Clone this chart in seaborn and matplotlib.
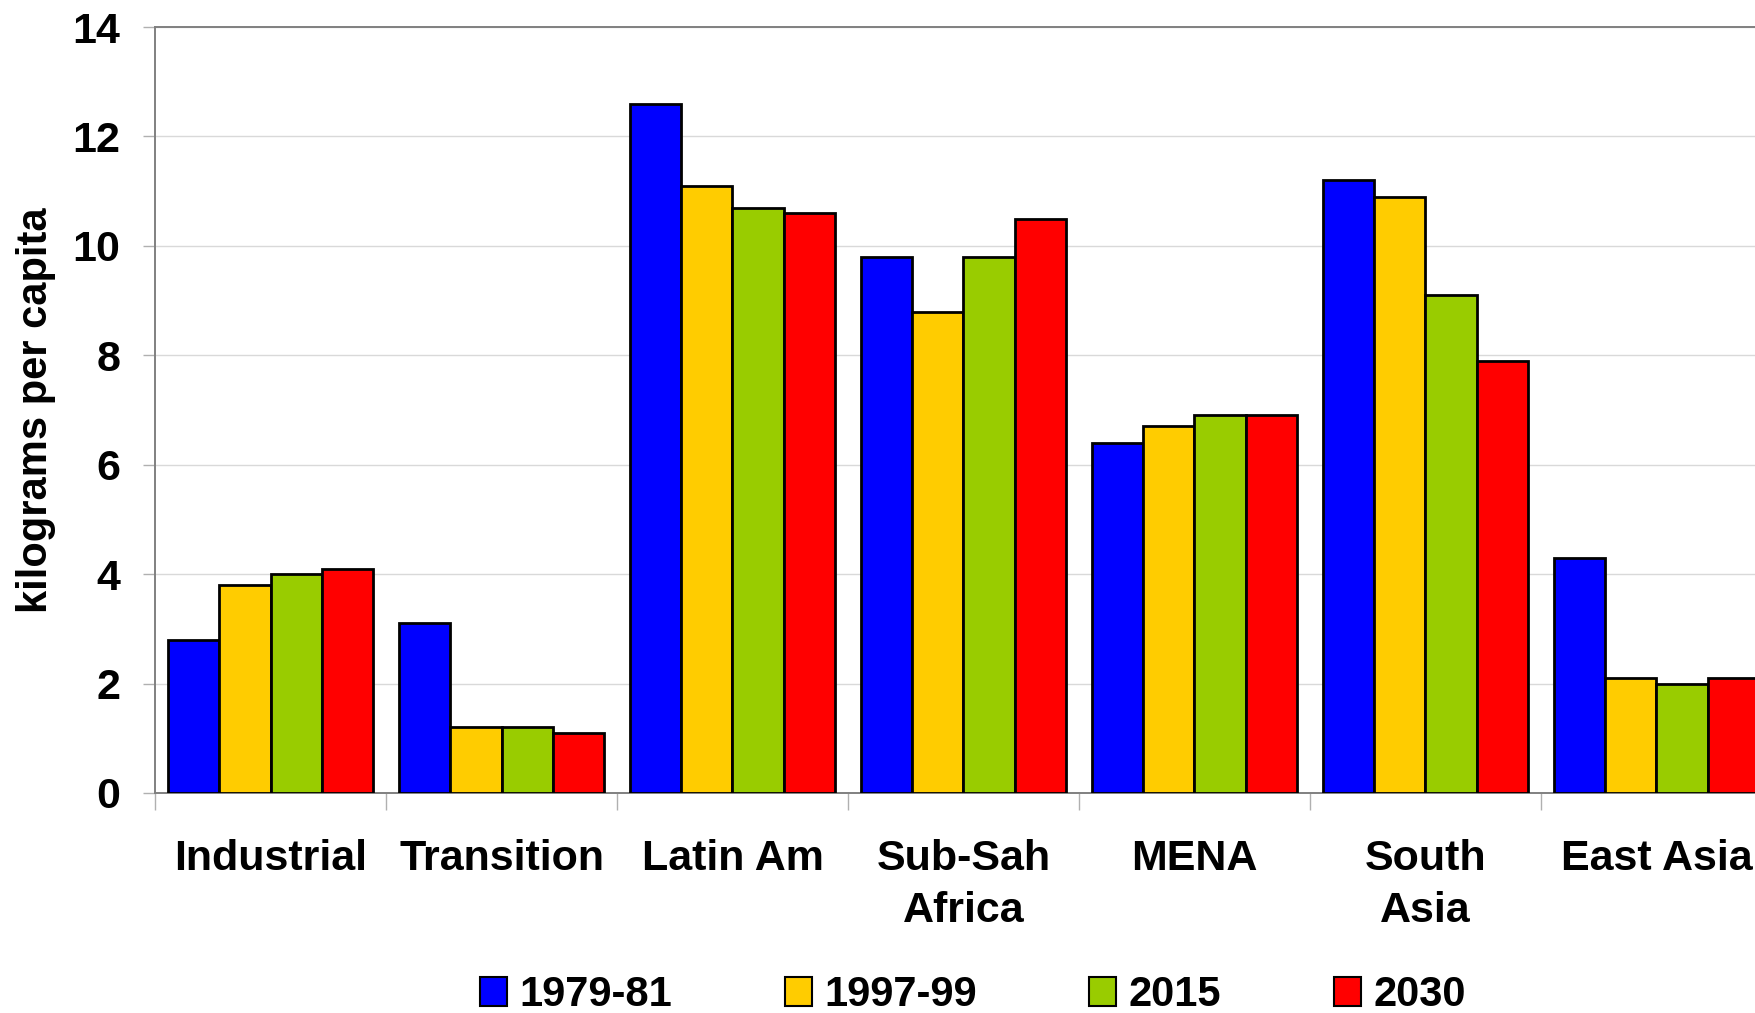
import numpy as np
import pandas as pd
import matplotlib
matplotlib.use("Agg")
import matplotlib.pyplot as plt
import seaborn as sns

# Data
regions = ["Industrial", "Transition", "Latin Am", "Sub-Sah\nAfrica", "MENA", "South\nAsia", "East Asia"]
periods = ["1979-81", "1997-99", "2015", "2030"]
v_1979 = [2.8, 3.1, 12.6, 9.8, 6.4, 11.2, 4.3]
v_1997 = [3.8, 1.2, 11.1, 8.8, 6.7, 10.9, 2.1]
v_2015 = [4.0, 1.2, 10.7, 9.8, 6.9, 9.1, 2.0]
v_2030 = [4.1, 1.1, 10.6, 10.5, 6.9, 7.9, 2.1]
colors = ["#0000FF", "#FFCC00", "#99CC00", "#FF0000"]

df = pd.DataFrame({
    "region": regions * 4,
    "period": [p for p in periods for _ in regions],
    "value": v_1979 + v_1997 + v_2015 + v_2030,
})

sns.set_theme(style="white")
plt.rcParams['font.family'] = ['Liberation Sans', 'DejaVu Sans']
plt.rcParams['font.weight'] = 'bold'
plt.rcParams['text.color'] = 'black'
plt.rcParams['axes.labelcolor'] = 'black'

fig = plt.figure(figsize=(17.56, 10.13), dpi=100)
ax = fig.add_axes([0.0883, 0.2172, 0.9207, 0.7561])

sns.barplot(data=df, x="region", y="value", hue="period", palette=colors,
            saturation=1, width=0.888, edgecolor="black", linewidth=2.0,
            ax=ax, legend=False, zorder=3)

ax.set_ylim(0, 14)
ax.set_xlim(-0.5, len(regions) - 0.5)
ax.set_yticks(np.arange(0, 15, 2))
ax.yaxis.grid(True, color="#d9d9d9", linewidth=1.0, zorder=0)
ax.set_axisbelow(True)

for s in ["left", "top", "bottom"]:
    ax.spines[s].set_color("#808080")
    ax.spines[s].set_linewidth(1.4)
ax.spines["right"].set_visible(False)

ax.tick_params(axis="y", which="major", length=9, width=1.0, color="#b0b0b0",
               labelcolor="black", direction="out", labelsize=31, pad=16, left=True)
for lbl in ax.get_yticklabels():
    lbl.set_fontweight("bold")

# x: group boundary ticks, labels centred
ax.set_xticks(np.arange(-0.5, len(regions), 1.0), minor=True)
ax.tick_params(axis="x", which="minor", length=12, width=1.0, color="#b0b0b0",
               direction="out", bottom=True)
ax.tick_params(axis="x", which="major", length=0, pad=33, labelsize=31,
               labelcolor="black")
ax.set_xticks(range(len(regions)))
ax.set_xticklabels(regions, fontweight="bold", va="top", linespacing=1.4)

ax.set_xlabel("")
ax.set_ylabel("kilograms per capita", fontsize=30, fontweight="bold", labelpad=12)

handles = [plt.Rectangle((0, 0), 1, 1, facecolor=c, edgecolor="black", linewidth=1.5)
           for c in colors]
fig.legend(handles, periods, loc="center", bbox_to_anchor=(0.554, 0.018), ncol=4,
           frameon=False, prop={"weight": "bold", "size": 30},
           handlelength=0.65, handleheight=0.7, handletextpad=0.3, columnspacing=2.7)

fig.savefig("out.png", dpi=100)
